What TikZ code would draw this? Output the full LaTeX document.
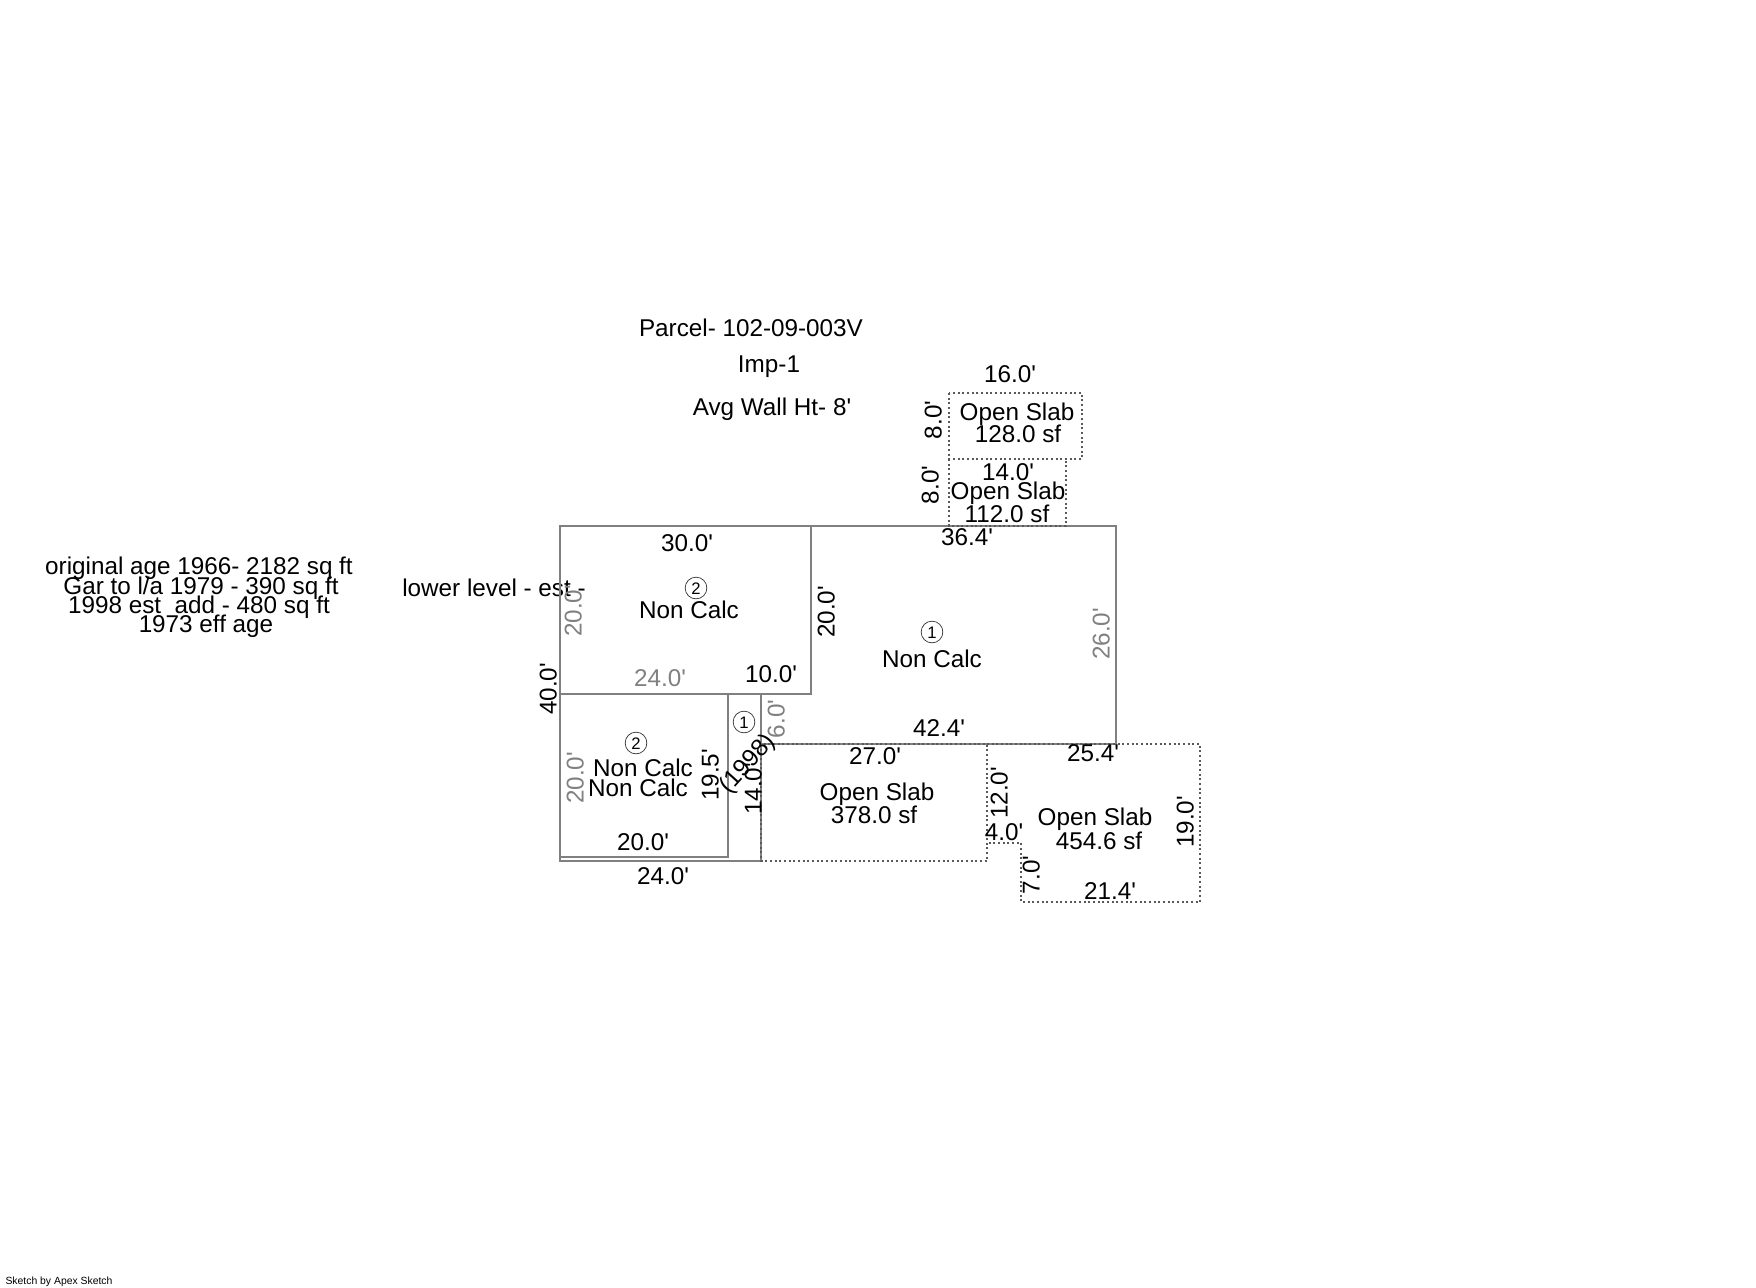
\documentclass[tikz,border=0pt]{standalone}
\usepackage{fontspec}
\setmainfont{Liberation Sans}[Ligatures=TeXOff]
\tikzset{
    wall/.style={draw=black!50,line width=1.3pt},
    slab/.style={draw=black!65,line width=1.4pt,dash pattern=on 1.6pt off 1.9pt},
    every node/.style={inner sep=0pt,text height=11.6pt,text depth=0pt,font=\fontsize{18.2}{20}\selectfont},
    dimgrey/.style={text=black!50},
    vert/.style={rotate=90},
    areamark/.style={circle,draw=black!85,line width=0.5pt,minimum size=16.3pt,text height=9pt,
        font=\fontsize{12.5}{14}\selectfont},
    credit/.style={text height=6pt,font=\fontsize{7.8}{9}\selectfont}
}
\begin{document}
\begin{tikzpicture}[x=0.75pt,y=-0.75pt]
    \useasboundingbox (0,0) rectangle (1756,1288);
    % notes
    \node (parcel) at (751,329) {Parcel- 102-09-003V};
    \node (imp) at (769,365) {Imp-1};
    \node (wallht) at (772,408) {Avg Wall Ht- 8'};
    \node (ageA) at (199,567) {original age 1966- 2182 sq ft};
    \node (ageB) at (201,587) {Gar to l/a 1979 - 390 sq ft};
    \node (ageC) at (199,606) {1998 est\ \ add - 480 sq ft};
    \node (ageD) at (206,625) {1973 eff age};
    \node (lower) at (494,589) {lower level - est -};
    \node[credit] (apex) at (59,1280) {Sketch by Apex Sketch};
    % walls
    \draw[wall] (560,526) rectangle (811,694);
    \draw[wall] (811,526) -- (1116,526) -- (1116,744) -- (761,744);
    \draw[wall] (560,694) -- (560,861) -- (761,861);
    \draw[wall] (560,857) -- (728,857) -- (728,694);
    \draw[wall,line width=0.9pt] (761,694) -- (761,744);
    \draw[wall] (761,744) -- (761,861);
    % slabs
    \draw[slab] (949,393) rectangle (1082,459);
    \draw[slab] (949,459) -- (949,526) -- (1066,526) -- (1066,459);
    \draw[slab] (761,744) rectangle (987,861);
    \draw[slab] (987,744) -- (1200,744) -- (1200,902) -- (1021,902) -- (1021,843) -- (987,843);
    % upper room
    \node (upTop) at (687,544) {30.0'};
    \node[areamark] (upMark) at (696,588) {2};
    \node (upName) at (689,611) {Non Calc};
    \node[vert,dimgrey] (upLeft) at (574,611) {20.0'};
    \node[dimgrey] (upBottom) at (660,679) {24.0'};
    \node (upStub) at (771,675) {10.0'};
    \node[vert] (upRight) at (827,612) {20.0'};
    \node[vert] (leftAll) at (549,689) {40.0'};
    % lower room
    \node[areamark] (lowMark) at (636,743) {2};
    \node (lowNameA) at (643,769) {Non Calc};
    \node (lowNameB) at (638,789) {Non Calc};
    \node[vert,dimgrey] (lowLeft) at (576,778) {20.0'};
    \node[vert] (lowRight) at (711,775) {19.5'};
    \node (lowBottom) at (643,843) {20.0'};
    \node (lowOuter) at (663,877) {24.0'};
    % strip
    \node[areamark] (stripMark) at (744,722) {1};
    \node[rotate=48] (stripYear) at (747,763) {(1998)};
    \node[vert] (stripLong) at (754,789) {14.0'};
    \node[vert,dimgrey] (stripShort) at (777,719) {6.0'};
    % main room
    \node (mainTop) at (967,538) {36.4'};
    \node[areamark] (mainMark) at (932,632) {1};
    \node (mainName) at (932,660) {Non Calc};
    \node[vert,dimgrey] (mainRight) at (1102,634) {26.0'};
    \node (mainBottom) at (939,729) {42.4'};
    % top slabs
    \node (slabATop) at (1010,375) {16.0'};
    \node[vert] (slabASide) at (934,420) {8.0'};
    \node (slabAName) at (1017,413) {Open Slab};
    \node (slabAArea) at (1018,435) {128.0 sf};
    \node (slabBTop) at (1008,473) {14.0'};
    \node[vert] (slabBSide) at (931,485) {8.0'};
    \node (slabBName) at (1008,492) {Open Slab};
    \node (slabBArea) at (1007,515) {112.0 sf};
    % bottom slabs
    \node (slabCTop) at (875,757) {27.0'};
    \node (slabCName) at (877,793) {Open Slab};
    \node (slabCArea) at (874,816) {378.0 sf};
    \node (slabDTop) at (1093,754) {25.4'};
    \node[vert] (slabDInner) at (1000,793) {12.0'};
    \node (slabDStep) at (1004,833) {4.0'};
    \node[vert] (slabDDrop) at (1032,875) {7.0'};
    \node (slabDName) at (1095,818) {Open Slab};
    \node (slabDArea) at (1099,842) {454.6 sf};
    \node[vert] (slabDRight) at (1186,822) {19.0'};
    \node (slabDBottom) at (1110,892) {21.4'};
\end{tikzpicture}
\end{document}
